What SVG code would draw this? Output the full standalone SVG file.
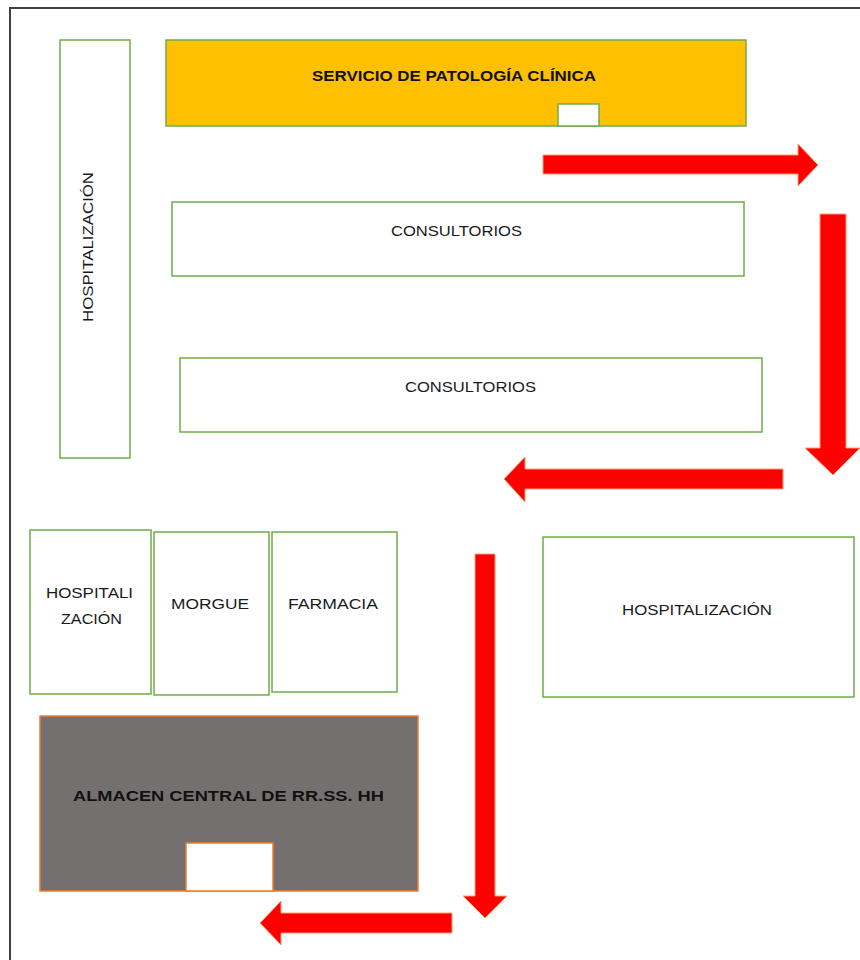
<svg xmlns="http://www.w3.org/2000/svg" width="860" height="960" viewBox="0 0 860 960">
<defs>
<style>
.room{fill:#ffffff;stroke:#70AD47;stroke-width:1.5}
.lbl{font-family:"Liberation Sans",Arial,sans-serif;font-size:14px;fill:#1a1a1a;text-anchor:middle}
.bold{font-weight:bold;font-size:15.5px;fill:#111}
.arrow{fill:#FF0000;stroke:#F4A070;stroke-width:1}
</style>
</defs>
<rect x="0" y="0" width="860" height="960" fill="#ffffff"/>
<rect id="frame" x="10" y="8" width="900" height="1000" fill="none" stroke="#404040" stroke-width="2"/>

<g id="hosp-left">
<rect class="room" x="60" y="40" width="70" height="418"/>
<text class="lbl" transform="translate(93,247) rotate(-90)" textLength="150" lengthAdjust="spacingAndGlyphs">HOSPITALIZACIÓN</text>
</g>

<g id="patologia">
<rect x="166" y="40" width="580" height="86" fill="#FFC000" stroke="#70AD47" stroke-width="1.5"/>
<rect x="558" y="104" width="41" height="22" fill="#ffffff" stroke="#70AD47" stroke-width="1.5"/>
<text class="lbl bold" x="454" y="81" textLength="284" lengthAdjust="spacingAndGlyphs">SERVICIO DE PATOLOGÍA CLÍNICA</text>
</g>

<g id="consultorios1">
<rect class="room" x="172" y="202" width="572" height="74"/>
<text class="lbl" x="456.5" y="236" textLength="131" lengthAdjust="spacingAndGlyphs">CONSULTORIOS</text>
</g>

<g id="consultorios2">
<rect class="room" x="180" y="358" width="582" height="74"/>
<text class="lbl" x="470.5" y="392" textLength="131" lengthAdjust="spacingAndGlyphs">CONSULTORIOS</text>
</g>

<g id="hosp-small">
<rect class="room" x="30" y="530" width="121" height="164"/>
<text class="lbl" x="89.5" y="598" textLength="87" lengthAdjust="spacingAndGlyphs">HOSPITALI</text>
<text class="lbl" x="91.5" y="624" textLength="61" lengthAdjust="spacingAndGlyphs">ZACIÓN</text>
</g>

<g id="morgue">
<rect class="room" x="154" y="532" width="115" height="163"/>
<text class="lbl" x="210" y="609" textLength="78" lengthAdjust="spacingAndGlyphs">MORGUE</text>
</g>

<g id="farmacia">
<rect class="room" x="272" y="532" width="125" height="160"/>
<text class="lbl" x="333" y="609" textLength="90" lengthAdjust="spacingAndGlyphs">FARMACIA</text>
</g>

<g id="hosp-right">
<rect class="room" x="543" y="537" width="311" height="160"/>
<text class="lbl" x="697" y="615" textLength="150" lengthAdjust="spacingAndGlyphs">HOSPITALIZACIÓN</text>
</g>

<g id="almacen">
<rect x="40" y="716" width="378" height="175" fill="#757070" stroke="#ED7D31" stroke-width="1.5"/>
<rect x="186" y="843" width="87" height="48" fill="#ffffff" stroke="#ED7D31" stroke-width="1.5"/>
<text class="lbl bold" x="228.5" y="801" textLength="311" lengthAdjust="spacingAndGlyphs">ALMACEN CENTRAL DE RR.SS. HH</text>
</g>

<g id="connectors">
<polygon class="arrow" points="543,155 798,155 798,144 818,165 798,186 798,174 543,174"/>
<polygon class="arrow" points="820,214 846,214 846,448 860,448 833,475 805,448 820,448"/>
<polygon class="arrow" points="783,469 525,469 525,457 504,479 525,502 525,489 783,489"/>
<polygon class="arrow" points="475,554 495,554 495,896 507,896 485,918 463,896 475,896"/>
<polygon class="arrow" points="452,913 281,913 281,901 260,923 281,945 281,933 452,933"/>
</g>
</svg>
